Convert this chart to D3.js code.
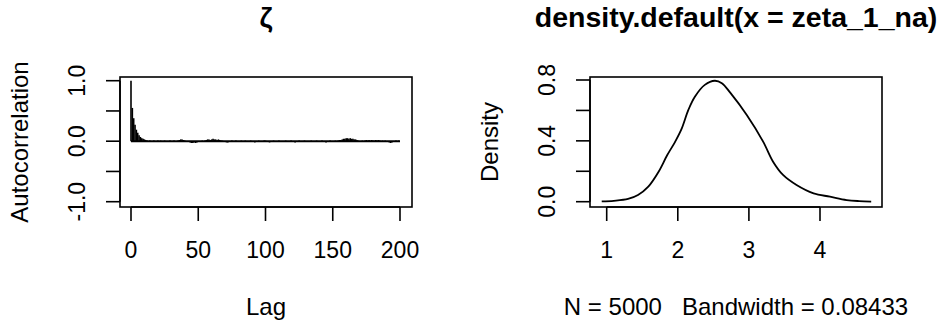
<!DOCTYPE html>
<html>
<head>
<meta charset="utf-8">
<script src="https://cdn.jsdelivr.net/npm/d3@7"></script>
<style>
  body { margin: 0; background: #fff; }
  text { font-family: "Liberation Sans", Arial, Helvetica, sans-serif; fill: #000; }
</style>
</head>
<body>
<div id="chart"></div>
<script>
const width = 943;
const height = 325;

// autocorrelation of zeta, lags 0..200
const acfValues = [
  1, 0.55, 0.38, 0.27, 0.19, 0.14, 0.10, 0.07, 0.05, 0.04, 0.03, 0.02, 0.01, 0.00,
  0.01, -0.01, 0.00, 0.01, 0.00, -0.01, 0.01, 0.00, 0.01, -0.01, 0.00, 0.01, 0.00, -0.01, 0.00, 0.01, 0.00,
  0.00, 0.01, 0.00, -0.01, 0.01, 0.02, 0.03, 0.03, 0.02, 0.01, 0.00, -0.01, -0.01,
  -0.02, -0.03, -0.03, -0.02, -0.03, -0.02, -0.01, -0.01, 0.00, 0.01, 0.00,
  0.01, 0.02, 0.03, 0.03, 0.02, 0.03, 0.04, 0.03, 0.03, 0.02, 0.03, 0.02, 0.01, 0.01, 0.00, -0.01,
  -0.02, -0.02, -0.01, 0.00, 0.01, 0.00, -0.01, 0.01, 0.00, -0.01, 0.00, 0.01, 0.00, -0.01, 0.01, 0.00, -0.01, 0.00, 0.01, 0.00,
  -0.01, -0.02, -0.01, 0.00, 0.01, 0.00, -0.01, 0.00, 0.01, 0.01, 0.00, -0.01, -0.02, -0.01, 0.00, 0.01, 0.00,
  -0.01, 0.00, 0.01, 0.00, -0.01, -0.01, 0.00, 0.01, 0.00, -0.01, 0.00, 0.01, 0.00, -0.01, -0.02, -0.01, 0.00, 0.01,
  0.00, -0.01, 0.00, 0.01, 0.00, -0.01, -0.01, 0.00, 0.01, 0.00, -0.01, 0.00, 0.01, 0.00, -0.01, 0.00,
  0.01, 0.00, -0.01, -0.02, -0.01, 0.00, 0.01, 0.00, -0.01, 0.00, 0.01, 0.00, 0.01, 0.02, 0.02,
  0.03, 0.04, 0.04, 0.05, 0.05, 0.04, 0.05, 0.04, 0.04, 0.03, 0.03, 0.02, 0.01, 0.00,
  0.00, 0.01, 0.00, 0.01, 0.02, 0.01, 0.02, 0.01, 0.02, 0.01, 0.01, 0.02, 0.01, 0.02, 0.01,
  0.00, 0.01, 0.00, 0.01, 0.00, -0.01, -0.02, -0.03, -0.02, -0.01, 0.00, 0.01, 0.00, 0.01, 0.00
];
const acfTicksX = [0, 50, 100, 150, 200];
const acfTicksY = [-1, -0.5, 0, 0.5, 1];
const acfLabelsY = ["-1.0", "", "0.0", "", "1.0"];

// density estimate of zeta_1_na
const densX = [0.93, 1.10, 1.30, 1.44, 1.585, 1.73, 1.85, 1.96, 2.05, 2.15, 2.24, 2.38, 2.52, 2.62, 2.74,
  2.97, 3.20, 3.34, 3.48, 3.67, 3.91, 4.14, 4.375, 4.55, 4.72];
const densY = [0.002, 0.006, 0.018, 0.044, 0.099, 0.197, 0.305, 0.392, 0.475, 0.605, 0.69, 0.768, 0.795, 0.779, 0.715,
  0.57, 0.395, 0.263, 0.176, 0.11, 0.055, 0.033, 0.011, 0.004, 0.001];
const densTicksX = [1, 2, 3, 4];
const densTicksY = [0, 0.2, 0.4, 0.6, 0.8];
const densLabelsY = ["0.0", "", "0.4", "", "0.8"];

const svg = d3.select("#chart")
    .append("svg")
    .attr("width", width)
    .attr("height", height);

const fs = 23;      // tick labels
const fsLab = 24;   // axis labels
const tick = 14;

function panel(opts) {
    const g = svg.append("g");
    const { x, y, x0, x1, y0, y1 } = opts;

    // frame
    g.append("rect")
        .attr("x", x0).attr("y", y0)
        .attr("width", x1 - x0).attr("height", y1 - y0)
        .attr("fill", "none").attr("stroke", "#000").attr("stroke-width", 1.6);

    // x axis
    const xa = g.append("g");
    xa.append("line")
        .attr("x1", x(opts.xTicks[0])).attr("x2", x(opts.xTicks[opts.xTicks.length - 1]))
        .attr("y1", y1).attr("y2", y1)
        .attr("stroke", "#000").attr("stroke-width", 1.6);
    opts.xTicks.forEach(t => {
        xa.append("line")
            .attr("x1", x(t)).attr("x2", x(t))
            .attr("y1", y1).attr("y2", y1 + tick)
            .attr("stroke", "#000").attr("stroke-width", 1.6);
        xa.append("text")
            .attr("x", x(t)).attr("y", 258)
            .attr("text-anchor", "middle")
            .style("font-size", fs + "px")
            .text(t);
    });

    // y axis
    const ya = g.append("g");
    ya.append("line")
        .attr("x1", x0).attr("x2", x0)
        .attr("y1", y(opts.yTicks[0])).attr("y2", y(opts.yTicks[opts.yTicks.length - 1]))
        .attr("stroke", "#000").attr("stroke-width", 1.6);
    opts.yTicks.forEach((t, i) => {
        ya.append("line")
            .attr("x1", x0 - tick).attr("x2", x0)
            .attr("y1", y(t)).attr("y2", y(t))
            .attr("stroke", "#000").attr("stroke-width", 1.6);
        if (opts.yLabels[i]) {
            ya.append("text")
                .attr("transform", `translate(${x0 - 35},${y(t)}) rotate(-90)`)
                .attr("text-anchor", "middle")
                .style("font-size", fs + "px")
                .text(opts.yLabels[i]);
        }
    });

    // titles
    const cx = (x0 + x1) / 2;
    g.append("text")
        .attr("x", cx).attr("y", 27)
        .attr("text-anchor", "middle")
        .style("font-size", "28.5px").style("font-weight", "bold")
        .text(opts.title);
    g.append("text")
        .attr("x", cx).attr("y", 315)
        .attr("text-anchor", "middle")
        .style("font-size", fsLab + "px")
        .attr("xml:space", "preserve")
        .text(opts.xLabel);
    g.append("text")
        .attr("transform", `translate(${x0 - 92},${(y0 + y1) / 2}) rotate(-90)`)
        .attr("text-anchor", "middle")
        .style("font-size", fsLab + "px")
        .text(opts.yLabel);
    return g;
}

// left panel: ACF
const xL = d3.scaleLinear().domain([0, 200]).range([131, 400]);
const yL = d3.scaleLinear().domain([-1, 1]).range([201.7, 80.7]);
const left = panel({
    x: xL, y: yL, x0: 120, x1: 412, y0: 77, y1: 207,
    xTicks: acfTicksX, yTicks: acfTicksY, yLabels: acfLabelsY,
    title: "ζ", xLabel: "Lag", yLabel: "Autocorrelation"
});
left.append("line")
    .attr("x1", xL(0)).attr("x2", xL(200))
    .attr("y1", yL(0)).attr("y2", yL(0))
    .attr("stroke", "#000").attr("stroke-width", 2);
left.append("g")
    .selectAll("line")
    .data(acfValues)
    .enter().append("line")
    .attr("x1", (d, i) => xL(i)).attr("x2", (d, i) => xL(i))
    .attr("y1", yL(0)).attr("y2", d => yL(d))
    .attr("stroke", "#000").attr("stroke-width", 1.6);

// right panel: density
const xR = d3.scaleLinear().domain([1, 4]).range([606.7, 820]);
const yR = d3.scaleLinear().domain([0, 0.8]).range([201.7, 80]);
const right = panel({
    x: xR, y: yR, x0: 590, x1: 882, y0: 77, y1: 207,
    xTicks: densTicksX, yTicks: densTicksY, yLabels: densLabelsY,
    title: "density.default(x = zeta_1_na)",
    xLabel: "N = 5000   Bandwidth = 0.08433", yLabel: "Density"
});
const line = d3.line()
    .x(d => xR(d[0]))
    .y(d => yR(d[1]))
    .curve(d3.curveCatmullRom);
right.append("path")
    .datum(densX.map((v, i) => [v, densY[i]]))
    .attr("d", line)
    .attr("fill", "none")
    .attr("stroke", "#000")
    .attr("stroke-width", 1.8);
</script>
</body>
</html>
